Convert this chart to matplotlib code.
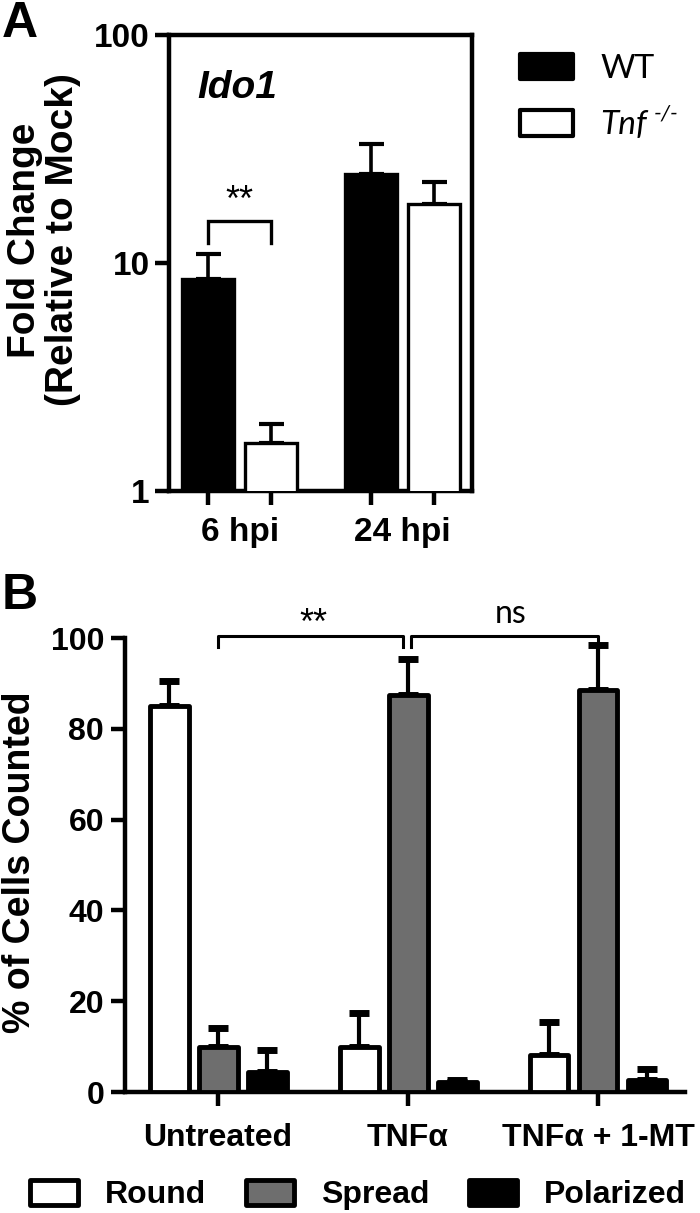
import matplotlib
matplotlib.use("Agg")
import matplotlib.pyplot as plt
import numpy as np

plt.rcParams['font.family'] = ['Liberation Sans', 'DejaVu Sans']

# ---------------- data ----------------
# Panel A (log scale)
groups_a = ['6 hpi', '24 hpi']
wt_mean = [8.5, 24.6]
wt_err = [2.5, 8.6]
tnf_mean = [1.63, 18.1]
tnf_err = [0.34, 4.5]
series_a = ['WT', 'Tnf']
tnf_superscript = '-/-'

# Panel B
conditions = ['Untreated', 'TNF\u03b1', 'TNF\u03b1 + 1-MT']
round_mean = [85.1, 9.9, 8.2]
round_err = [5.5, 7.6, 7.2]
spread_mean = [10.0, 87.4, 88.6]
spread_err = [4.1, 8.0, 9.8]
polar_mean = [4.4, 2.1, 2.6]
polar_err = [4.9, 0.5, 2.5]
series_b = ['Round', 'Spread', 'Polarized']

W, H = 700, 1213
fig = plt.figure(figsize=(W / 100, H / 100), dpi=100)

# ---------------- Panel A ----------------
axA = fig.add_axes([169 / W, (H - 491) / H, 303 / W, 456 / H])
xa = np.arange(len(groups_a))
off_a = 0.193
bw_a = 0.32
barsA1 = axA.bar(xa - off_a, wt_mean, bw_a, color='black', edgecolor='black',
                 linewidth=2.4, zorder=3, label=series_a[0])
barsA2 = axA.bar(xa + off_a, tnf_mean, bw_a, color='white', edgecolor='black',
                 linewidth=2.4, zorder=3, label=series_a[1])
for xs, m, e in [(xa - off_a, wt_mean, wt_err), (xa + off_a, tnf_mean, tnf_err)]:
    axA.errorbar(xs, m, yerr=[np.zeros(len(m)), e], fmt='none', ecolor='black',
                 elinewidth=2.6, capsize=9, capthick=3, zorder=2)
axA.set_yscale('log')
axA.set_ylim(1, 100)
axA.set_xlim(-0.433, 1.426)
axA.set_yticks([1, 10, 100])
axA.set_yticklabels(['1', '10', '100'])
axA.yaxis.set_minor_locator(matplotlib.ticker.NullLocator())
axA.set_xticks(np.concatenate([xa - off_a, xa + off_a]))
axA.set_xticklabels([])
axA.set_xticks(xa, minor=True)
axA.set_xticklabels(groups_a, minor=True)
for s in axA.spines.values():
    s.set_linewidth(3.2)
axA.tick_params(axis='both', which='major', width=3.2, length=10, labelsize=24, pad=4)
axA.tick_params(axis='x', which='minor', length=0, labelsize=24, pad=19)
for t in axA.get_yticklabels() + axA.get_xticklabels(minor=True):
    t.set_fontweight('bold')
axA.text(0.224, 0.884, 'Ido1', transform=axA.transAxes, ha='center', va='center',
         style='italic', weight='bold', size=28)
# significance bracket
axA.plot([-off_a, -off_a, off_a, off_a], [12.2, 15.3, 15.3, 12.2], color='black',
         lw=2.4, solid_joinstyle='miter', zorder=4)
axA.text(0, 17.0, '**', ha='center', va='baseline', size=26)

fig.text(44 / W, 1 - 240 / H, 'Fold Change\n(Relative to Mock)', rotation=90,
         ha='center', va='center', size=28, weight='bold', linespacing=1.05)

legA = fig.legend(handles=[barsA1, barsA2], labels=series_a, loc='center left',
                  bbox_to_anchor=(520 / W, 1 - 97 / H), frameon=False,
                  prop={'family': 'Lato', 'size': 24}, handlelength=1.6,
                  handleheight=0.8, handletextpad=0.8, labelspacing=0.78,
                  borderpad=0, borderaxespad=0)
for p in legA.get_patches():
    p.set_linewidth(3)
    p.set_joinstyle('round')
legA.get_texts()[1].set_style('italic')

fig.text(2 / W, 1 - 1 / H, 'A', ha='left', va='top', size=36, weight='bold')

# ---------------- Panel B ----------------
axB = fig.add_axes([125 / W, (H - 1092) / H, 560 / W, 454 / H])
xb = np.arange(len(conditions))
off_b = 0.258
bw_b = 0.205
bar_kw = dict(edgecolor='black', linewidth=3.5, zorder=3)
barsB = []
for k, (m, e, c, lab) in enumerate([(round_mean, round_err, 'white', series_b[0]),
                                    (spread_mean, spread_err, '#6e6e6e', series_b[1]),
                                    (polar_mean, polar_err, 'black', series_b[2])]):
    xs = xb + (k - 1) * off_b
    b = axB.bar(xs, m, bw_b, color=c, label=lab, **bar_kw)
    for p in b:
        p.set_joinstyle('round')
    barsB.append(b)
    axB.errorbar(xs, m, yerr=[np.zeros(len(m)), e], fmt='none', ecolor='black',
                 elinewidth=3, capsize=7.5, capthick=5, zorder=2)
axB.set_ylim(0, 100)
axB.set_xlim(-0.49, 2.458)
axB.set_yticks([0, 20, 40, 60, 80, 100])
axB.set_xticks(xb)
axB.set_xticklabels(conditions)
axB.spines['top'].set_visible(False)
axB.spines['right'].set_visible(False)
for s in ['left', 'bottom']:
    axB.spines[s].set_linewidth(3.2)
axB.tick_params(axis='both', width=3.2, length=10, labelsize=23, pad=5)
axB.tick_params(axis='x', pad=12)
for t in axB.get_yticklabels() + axB.get_xticklabels():
    t.set_fontweight('bold')
# brackets
axB.plot([0, 0, 0.975, 0.975], [98.0, 100.4, 100.4, 98.0], color='black', lw=2.2,
         clip_on=False, zorder=4)
axB.plot([1.015, 1.015, 2, 2], [98.0, 100.4, 100.4, 98.0], color='black', lw=2.2,
         clip_on=False, zorder=4)
axB.text(0.5, 101.0, '**', ha='center', va='baseline', size=26)
axB.text(1.54, 103.2, 'ns', ha='center', va='baseline', size=23, family='Lato')

fig.text(20 / W, 1 - 862 / H, '% of Cells Counted', rotation=90, ha='center',
         va='center', size=27, weight='bold')

legB = fig.legend(handles=barsB, labels=series_b, loc='center', ncol=3,
                  bbox_to_anchor=(358 / W, 1 - 1195 / H), frameon=False,
                  prop={'weight': 'bold', 'size': 23}, handlelength=1.5,
                  handleheight=0.85, handletextpad=0.85, columnspacing=1.25,
                  borderpad=0, borderaxespad=0)
for p in legB.get_patches():
    p.set_linewidth(3.5)
    p.set_joinstyle('round')

fig.text(2 / W, 1 - 573 / H, 'B', ha='left', va='top', size=36, weight='bold')

# superscript after the Tnf legend label
fig.canvas.draw()
bb = legA.get_texts()[1].get_window_extent()
fig.text((bb.x1 + 7) / W, (bb.y1 - 3) / H, tnf_superscript, ha='left', va='center',
         size=16, family='Lato', style='italic')

fig.savefig('out.png', dpi=100)
